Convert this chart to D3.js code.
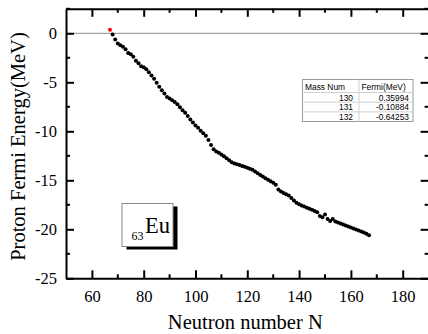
<!DOCTYPE html>
<html>
<head>
<meta charset="utf-8">
<script src="https://cdn.jsdelivr.net/npm/d3@7"></script>
<style>
  html, body { margin: 0; padding: 0; background: #fff; }
  svg { display: block; }
  .serif { font-family: 'Liberation Serif', 'Times New Roman', serif; }
  .sans { font-family: 'Liberation Sans', Arial, sans-serif; }
</style>
</head>
<body>
<svg id="chart" width="428" height="334"></svg>
<script>
// Proton Fermi energy of Eu (Z = 63) isotopes versus neutron number
const neutronNumbers = d3.range(67, 168);
const fermiEnergy = [
   0.36, -0.11, -0.64, -1.05, -1.22, -1.38, -1.62, -2.02, -2.15, -2.40,
  -2.80, -3.05, -3.35, -3.47, -3.68, -3.98, -4.30, -4.65, -5.05, -5.45,
  -5.80, -6.15, -6.50, -6.65, -6.82, -7.00, -7.25, -7.55, -7.85, -8.10,
  -8.45, -8.80, -9.10, -9.40, -9.65, -9.95, -10.20, -10.45, -10.90, -11.40,
  -11.82, -12.05, -12.20, -12.38, -12.55, -12.75, -12.95, -13.15, -13.28, -13.35,
  -13.45, -13.55, -13.62, -13.72, -13.82, -13.92, -14.10, -14.28, -14.46, -14.62,
  -14.80, -14.95, -15.10, -15.25, -15.45, -15.95, -16.15, -16.30, -16.42, -16.55,
  -16.80, -17.05, -17.30, -17.45, -17.58, -17.68, -17.80, -17.90, -18.00, -18.12,
  -18.25, -18.65, -18.78, -18.50, -18.95, -19.15, -18.95, -19.20, -19.30, -19.40,
  -19.50, -19.62, -19.72, -19.82, -19.92, -20.02, -20.12, -20.22, -20.32, -20.45,
  -20.60
];
const highlightN = 67;

// inset table of the lightest isotopes
const tableHeader = ["Mass Num", "Fermi(MeV)"];
const tableMass = ["130", "131", "132"];
const tableFermi = ["0.35994", "-0.10884", "-0.64253"];

const xTickValues = [60, 80, 100, 120, 140, 160, 180];
const xMinorValues = [70, 90, 110, 130, 150, 170];
const yTickValues = [-25, -20, -15, -10, -5, 0];
const yMinorValues = [-22.5, -17.5, -12.5, -7.5, -2.5, 2.5];

const svg = d3.select("#chart");
const plotLeft = 66, plotRight = 428.6, plotTop = 8.8, plotBottom = 278.3;

const x = d3.scaleLinear().domain([50, 190]).range([plotLeft, plotRight]);
const y = d3.scaleLinear().domain([-25, 2.5]).range([plotBottom, plotTop]);

const plainNum = d => String(d);   // hyphen-minus, as in the printed labels

// zero reference line
svg.append("line")
  .attr("x1", plotLeft).attr("x2", plotRight)
  .attr("y1", y(0)).attr("y2", y(0))
  .attr("stroke", "#8a8a8a").attr("stroke-width", 1);

// data points
const pts = neutronNumbers.map((n, i) => ({ n, v: fermiEnergy[i] }));
svg.append("g").selectAll("circle")
  .data(pts)
  .join("circle")
  .attr("cx", d => x(d.n))
  .attr("cy", d => y(d.v))
  .attr("r", 2)
  .attr("fill", d => d.n === highlightN ? "#ff0000" : "#000");

// axes (ticks point inward on all four sides)
function styleAxis(g) {
  g.attr("font-family", null).attr("font-size", null).attr("class", "serif");
  g.selectAll(".domain").attr("stroke", "#000").attr("stroke-width", 2);
  g.selectAll(".tick line").attr("stroke", "#000").attr("stroke-width", 2);
  g.selectAll(".tick text")
    .attr("class", "serif").style("font-size", "16.5px").attr("fill", "#000");
}

const xAxis = d3.axisBottom(x).tickValues(xTickValues).tickFormat(plainNum)
  .tickSize(-8).tickPadding(12).tickSizeOuter(0);
const gx = svg.append("g").attr("transform", `translate(0,${plotBottom})`).call(xAxis);
styleAxis(gx);
gx.append("g").selectAll("line").data(xMinorValues).join("line")
  .attr("x1", d => x(d)).attr("x2", d => x(d)).attr("y1", 0).attr("y2", -4)
  .attr("stroke", "#000").attr("stroke-width", 2);

const gxTop = svg.append("g").attr("transform", `translate(0,${plotTop})`)
  .call(d3.axisTop(x).tickValues(xTickValues).tickSize(-8).tickFormat("").tickSizeOuter(0));
styleAxis(gxTop);
gxTop.append("g").selectAll("line").data(xMinorValues).join("line")
  .attr("x1", d => x(d)).attr("x2", d => x(d)).attr("y1", 0).attr("y2", 4)
  .attr("stroke", "#000").attr("stroke-width", 2);

const yAxis = d3.axisLeft(y).tickValues(yTickValues).tickFormat(plainNum)
  .tickSize(-8).tickPadding(9).tickSizeOuter(0);
const gy = svg.append("g").attr("transform", `translate(${plotLeft},0)`).call(yAxis);
styleAxis(gy);
gy.append("g").selectAll("line").data(yMinorValues).join("line")
  .attr("y1", d => y(d)).attr("y2", d => y(d)).attr("x1", 0).attr("x2", 4)
  .attr("stroke", "#000").attr("stroke-width", 2);

const gyRight = svg.append("g").attr("transform", `translate(${plotRight},0)`)
  .call(d3.axisRight(y).tickValues(yTickValues).tickSize(-8).tickFormat("").tickSizeOuter(0));
styleAxis(gyRight);
gyRight.append("g").selectAll("line").data(yMinorValues).join("line")
  .attr("y1", d => y(d)).attr("y2", d => y(d)).attr("x1", 0).attr("x2", -4)
  .attr("stroke", "#000").attr("stroke-width", 2);

// axis titles
svg.append("text")
  .attr("class", "serif")
  .attr("x", (plotLeft + plotRight) / 2 - 2).attr("y", 329)
  .attr("text-anchor", "middle")
  .style("font-size", "20.5px")
  .text("Neutron number N");

svg.append("text")
  .attr("class", "serif")
  .attr("transform", `translate(25,${(plotTop + plotBottom) / 2 + 3}) rotate(-90)`)
  .attr("text-anchor", "middle")
  .style("font-size", "20.5px")
  .text("Proton Fermi Energy(MeV)");

// element label box with drop shadow
const box = { x: 122, y: 203.5, w: 51, h: 43 };
svg.append("rect")
  .attr("x", box.x + 4.5).attr("y", box.y + 3)
  .attr("width", box.w).attr("height", box.h)
  .attr("fill", "#000");
svg.append("rect")
  .attr("x", box.x).attr("y", box.y)
  .attr("width", box.w).attr("height", box.h)
  .attr("fill", "#fff").attr("stroke", "#888").attr("stroke-width", 1);
const lab = svg.append("text")
  .attr("class", "serif")
  .attr("x", box.x + 9.5).attr("y", box.y + 29)
  .style("font-size", "22.5px");
lab.append("tspan").style("font-size", "12px").attr("dy", 7.5).text("63");
lab.append("tspan").attr("dy", -7.5).attr("dx", 1.5).text("Eu");

// inset table
const tbl = { x: 302.5, y: 79.5, w: 110.5, colX: 359, rowH: [13, 9.7, 9.7, 9.6] };
const rowY = [tbl.y];
tbl.rowH.forEach(h => rowY.push(rowY[rowY.length - 1] + h));
const tblH = rowY[rowY.length - 1] - tbl.y;
const tg = svg.append("g").attr("class", "sans").style("font-size", "8.4px");
tg.append("rect")
  .attr("x", tbl.x).attr("y", tbl.y).attr("width", tbl.w).attr("height", tblH)
  .attr("fill", "#fff").attr("stroke", "#9a9a9a").attr("stroke-width", 1);
tg.selectAll("line.row").data(rowY.slice(1, -1)).join("line")
  .attr("class", "row")
  .attr("x1", tbl.x).attr("x2", tbl.x + tbl.w)
  .attr("y1", d => d).attr("y2", d => d)
  .attr("stroke", "#cfcfcf").attr("stroke-width", 1);
tg.append("line")
  .attr("x1", tbl.colX).attr("x2", tbl.colX)
  .attr("y1", tbl.y).attr("y2", tbl.y + tblH)
  .attr("stroke", "#cfcfcf").attr("stroke-width", 1);
tg.append("text").attr("x", tbl.x + 2.5).attr("y", rowY[0] + 10).text(tableHeader[0]);
tg.append("text").attr("x", tbl.colX + 2.5).attr("y", rowY[0] + 10).text(tableHeader[1]);
tableMass.forEach((m, i) => {
  tg.append("text").attr("x", tbl.colX - 6).attr("y", rowY[i + 1] + 8)
    .attr("text-anchor", "end").text(m);
  tg.append("text").attr("x", tbl.x + tbl.w - 4).attr("y", rowY[i + 1] + 8)
    .attr("text-anchor", "end").text(tableFermi[i]);
});
</script>
</body>
</html>
